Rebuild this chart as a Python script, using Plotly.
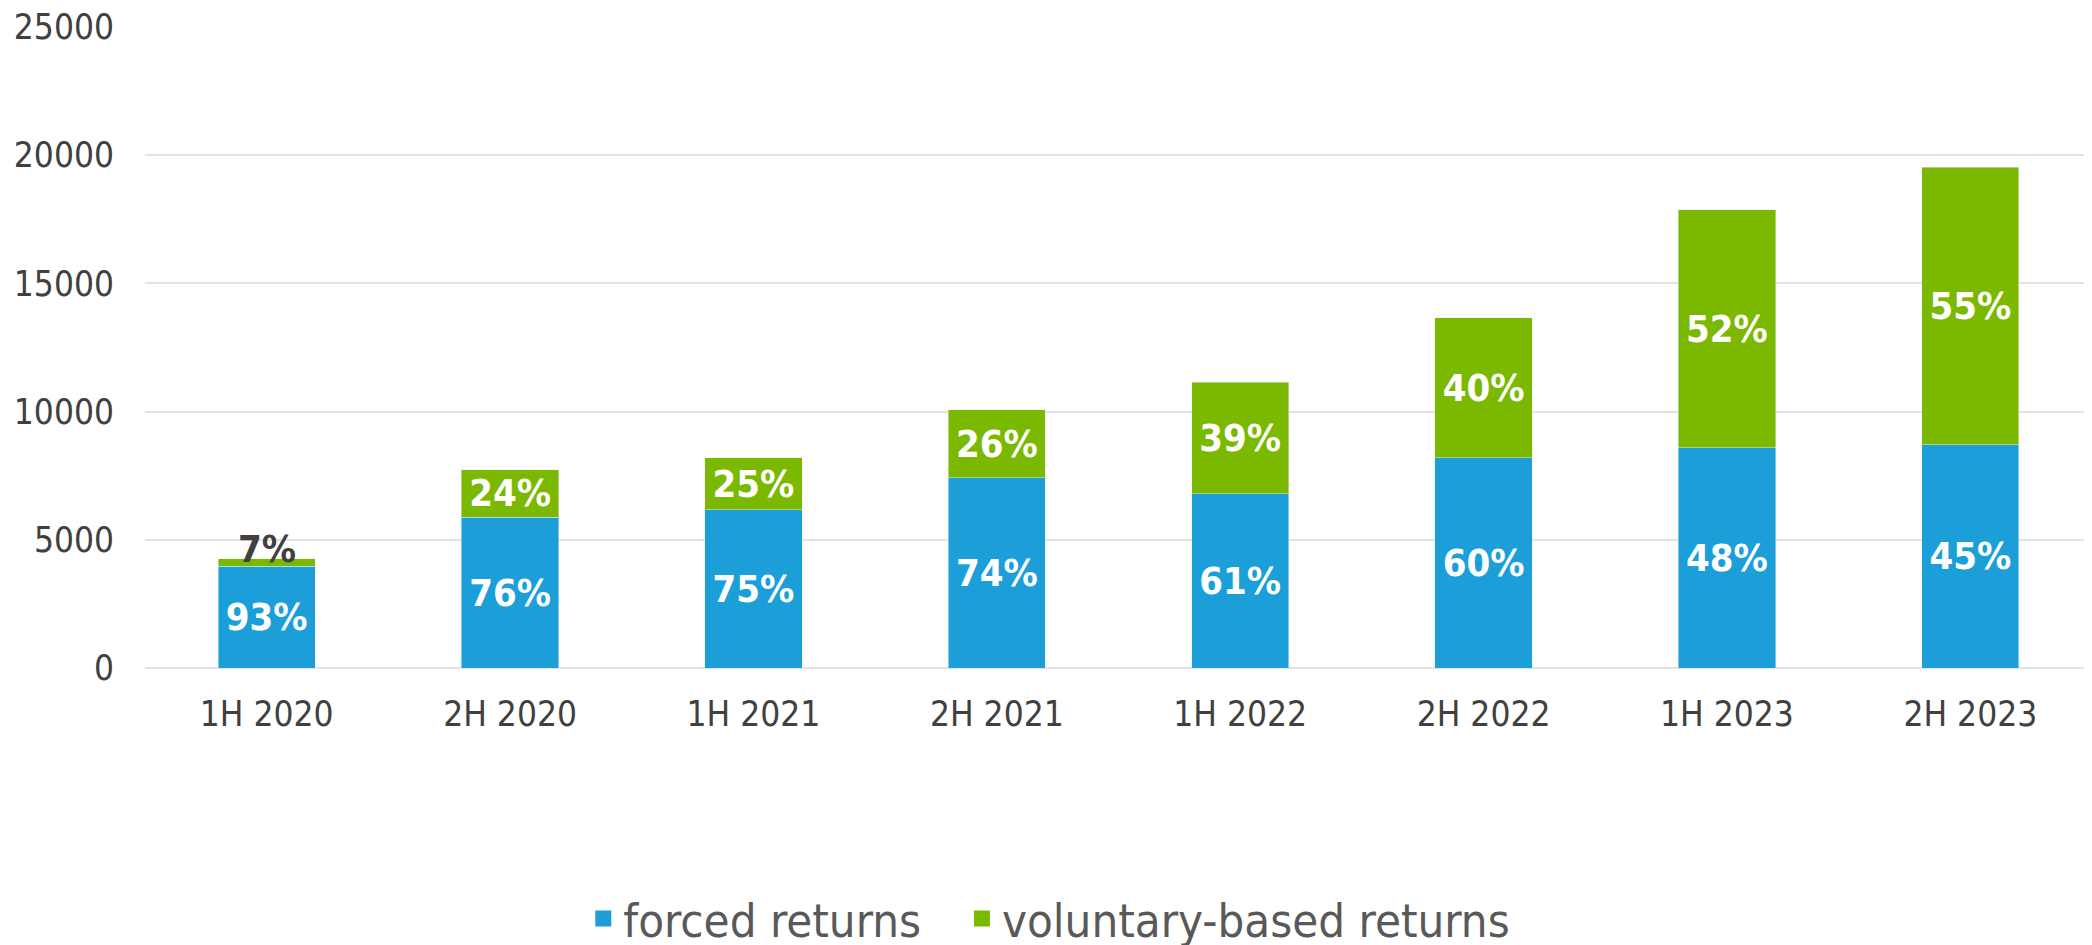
import plotly.graph_objects as go

categories = ["1H 2020", "2H 2020", "1H 2021", "2H 2021", "1H 2022", "2H 2022", "1H 2023", "2H 2023"]
forced = [3970, 5880, 6180, 7420, 6800, 8200, 8600, 8710]
voluntary = [290, 1860, 2030, 2660, 4340, 5470, 9280, 10820]
forced_pct = ["93%", "76%", "75%", "74%", "61%", "60%", "48%", "45%"]
voluntary_pct = ["7%", "24%", "25%", "26%", "39%", "40%", "52%", "55%"]
y_ticks = [0, 5000, 10000, 15000, 20000, 25000]
series_names = ["forced returns", "voluntary-based returns"]

BLUE = "#1c9fd8"
GREEN = "#7ab900"
FONT = "DejaVu Sans Condensed, DejaVu Sans, sans-serif"
LBL = dict(size=38, family="DejaVu Sans Condensed, DejaVu Sans", weight="bold")

# segments too thin to hold their label get it drawn over the bar top instead
thin = [v < 1000 for v in voluntary]
vol_text = ["" if t else p for p, t in zip(voluntary_pct, thin)]

fig = go.Figure()
fig.add_trace(go.Bar(
    name=series_names[0], x=categories, y=forced, marker_color=BLUE,
    text=forced_pct, textposition="inside", insidetextanchor="middle",
    textfont=dict(color="white", **LBL),
    constraintext="none", hoverinfo="x+y", showlegend=False,
))
fig.add_trace(go.Bar(
    name=series_names[1], x=categories, y=voluntary, marker_color=GREEN,
    text=vol_text, textposition="inside", insidetextanchor="middle",
    textfont=dict(color="white", **LBL),
    constraintext="none", hoverinfo="x+y", showlegend=False,
))
for c, f, v, p, t in zip(categories, forced, voluntary, voluntary_pct, thin):
    if t:
        fig.add_annotation(
            x=c, y=f + v, text=p, showarrow=False, yanchor="bottom", yshift=-14,
            font=dict(color="#404040", **LBL),
        )

# legend entries (square swatches), one legend box per series for spacing
for nm, col, lg in zip(series_names, [BLUE, GREEN], ["legend", "legend2"]):
    fig.add_trace(go.Scatter(
        name=nm, x=[None], y=[None], mode="markers",
        marker=dict(symbol="square", size=16, color=col, line=dict(width=0)),
        showlegend=True, hoverinfo="skip", legend=lg,
    ))

LEG = dict(
    orientation="h", xref="container", xanchor="left",
    yref="container", y=0.036, yanchor="middle",
    font=dict(size=47, color="#595959", family=FONT),
    itemsizing="trace", itemwidth=30, bgcolor="rgba(0,0,0,0)",
)

fig.update_layout(
    barmode="stack",
    bargap=0.6,
    width=2092, height=945,
    margin=dict(l=137, r=8, t=19, b=285, autoexpand=False),
    paper_bgcolor="white", plot_bgcolor="white",
    font=dict(family=FONT, color="#404040", size=35),
    showlegend=True,
    legend=dict(x=0.275, **LEG),
    legend2=dict(x=0.456, **LEG),
    xaxis=dict(
        showgrid=False, showline=False, zeroline=False, automargin=False,
        tickfont=dict(size=35, color="#404040"), ticks="", ticklabelstandoff=22,
    ),
    yaxis=dict(
        range=[0, 25000], tickvals=y_ticks, ticktext=[str(v) for v in y_ticks],
        showgrid=True, gridcolor="#e3e3e3", gridwidth=2, automargin=False,
        zeroline=True, zerolinecolor="#e3e3e3", zerolinewidth=2,
        showline=False, ticks="", tickfont=dict(size=35, color="#404040"),
        ticklabelstandoff=30, ticklabeloverflow="allow",
    ),
)

fig.write_html("out.html")
